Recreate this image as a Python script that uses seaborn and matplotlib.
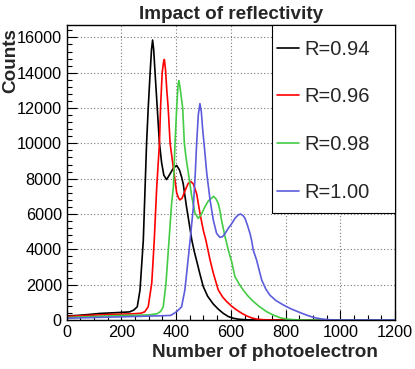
import numpy as np
import pandas as pd
import matplotlib
matplotlib.use('Agg')
import matplotlib.pyplot as plt
import seaborn as sns
from matplotlib.ticker import MultipleLocator
from matplotlib.patches import Rectangle

# values (number of photoelectrons, counts)
x_094 = [0, 40, 80, 120, 160, 200, 230, 245, 258, 268, 280, 292, 298, 305, 310, 314, 318, 323, 331, 339,
         347, 355, 365, 375, 390, 402, 412, 420, 426, 438, 448, 457, 466, 475, 487, 499, 515, 536, 555, 572,
         590, 609, 630, 660, 700, 1200]
y_094 = [230, 260, 310, 370, 400, 430, 460, 560, 750, 1700, 4500, 10000, 12000, 14000, 15300, 15850, 15300, 14000, 12000, 10000,
         8900, 8200, 7950, 8200, 8600, 8750, 8500, 8100, 7700, 6400, 5450, 4550, 3900, 3350, 2600, 1900, 1350, 900, 600, 380,
         200, 100, 40, 10, 0, 0]

x_096 = [0, 40, 80, 120, 160, 200, 240, 270, 285, 298, 311, 320, 329, 339, 343, 349, 354, 357, 361, 366,
         371, 378, 390, 402, 409, 414, 422, 432, 443, 453, 463, 475, 487, 499, 509, 524, 536, 554, 570, 585,
         603, 621, 640, 658, 676, 694, 720, 760, 1200]
y_096 = [200, 230, 260, 290, 310, 330, 350, 380, 460, 750, 2100, 4500, 7500, 10000, 12000, 14000, 14600, 14750, 14200, 13000,
         12000, 10000, 8600, 7200, 6900, 6800, 6900, 7300, 7700, 7850, 7700, 7150, 6050, 5100, 4500, 3400, 2650, 1700, 1300, 1040,
         780, 570, 380, 230, 120, 50, 15, 0, 0]

x_098 = [0, 50, 100, 150, 200, 250, 300, 330, 343, 353, 363, 374, 383, 390, 396, 402, 407, 410, 414, 419,
         424, 430, 437, 445, 457, 469, 481, 493, 505, 518, 530, 537, 546, 554, 560, 566, 579, 591, 603, 615,
         630, 645, 663, 682, 705, 731, 755, 780, 800, 830, 870, 1200]
y_098 = [140, 170, 200, 230, 260, 270, 290, 350, 480, 750, 2100, 4500, 6500, 7550, 10000, 12000, 13300, 13550, 13200, 12600,
         12000, 10000, 9100, 8300, 7000, 6050, 5750, 6000, 6400, 6750, 6900, 7000, 6850, 6600, 6200, 5650, 4700, 3950, 3300, 2450,
         2050, 1700, 1350, 1050, 750, 470, 280, 130, 60, 15, 0, 0]

x_100 = [0, 50, 100, 150, 200, 250, 300, 350, 380, 402, 420, 432, 445, 451, 463, 470, 475, 481, 487, 492,
         497, 502, 512, 524, 536, 548, 560, 570, 579, 591, 603, 615, 627, 636, 645, 652, 661, 670, 676, 682,
         694, 713, 728, 743, 765, 792, 820, 853, 880, 901, 930, 960, 990, 1200]
y_100 = [100, 120, 140, 160, 180, 200, 220, 240, 260, 470, 750, 1700, 3600, 4500, 6400, 8300, 10000, 11600, 12250, 11800,
         10800, 10000, 8300, 6800, 5650, 4900, 4680, 4720, 4900, 5200, 5450, 5750, 5950, 6000, 5900, 5750, 5350, 4900, 4500, 3950,
         3400, 2250, 1750, 1400, 1100, 850, 630, 420, 260, 150, 60, 15, 0, 0]

labels = ['R=0.94', 'R=0.96', 'R=0.98', 'R=1.00']
colors = ['#000000', '#ff0000', '#44cc44', '#5c5cdc']

frames = []
for lab, xs, ys in zip(labels, [x_094, x_096, x_098, x_100], [y_094, y_096, y_098, y_100]):
    frames.append(pd.DataFrame({'npe': xs, 'counts': ys, 'R': lab}))
df = pd.concat(frames, ignore_index=True)

sns.set_style('ticks')
plt.rcParams['font.family'] = ['Liberation Sans', 'DejaVu Sans']

fig = plt.figure(figsize=(4.15, 3.69), dpi=100)
ax = fig.add_axes([0.1607, 0.1328, 0.7911, 0.7994])

for lab, col in zip(labels, colors):
    sns.lineplot(data=df[df['R'] == lab], x='npe', y='counts', color=col, lw=1.2,
                 label=lab, ax=ax, estimator=None, sort=False)

ax.set_xlim(0, 1200)
ax.set_ylim(0, 16700)
ax.xaxis.set_major_locator(MultipleLocator(200))
ax.xaxis.set_minor_locator(MultipleLocator(50))
ax.yaxis.set_major_locator(MultipleLocator(2000))
ax.yaxis.set_minor_locator(MultipleLocator(400))
ax.tick_params(which='both', direction='in', labelsize=11.7, width=0.8, colors='black')
ax.tick_params(which='major', length=7)
ax.tick_params(which='minor', length=3.5)
for s in ax.spines.values():
    s.set_color('black')
    s.set_linewidth(1.0)
ax.grid(True, which='major', color='#777777', linestyle=(0, (1, 2)), linewidth=0.8)

ax.set_title('Impact of reflectivity', fontsize=13.6, fontweight='bold', pad=4)
ax.set_xlabel('Number of photoelectron', fontsize=13.6, fontweight='bold', loc='right')
ax.xaxis.set_label_coords(0.948, -0.083)
ax.set_ylabel('Counts', fontsize=13.6, fontweight='bold', loc='top')
ax.yaxis.set_label_coords(-0.145, 0.99)

# legend box drawn by hand so the padding can be uneven, like ROOT's TLegend
ax.add_patch(Rectangle((0.625, 0.3627), 0.375, 0.6373, transform=ax.transAxes,
                       facecolor='white', edgecolor='black', lw=0.8, zorder=4, clip_on=False))
leg = ax.legend(loc='upper left', bbox_to_anchor=(0.6406, 0.95), borderaxespad=0, borderpad=0,
                frameon=False, fontsize=14.5, handlelength=1.1, handletextpad=0.25, labelspacing=1.42)
leg.set_zorder(5)

fig.savefig('out.png', dpi=100)
